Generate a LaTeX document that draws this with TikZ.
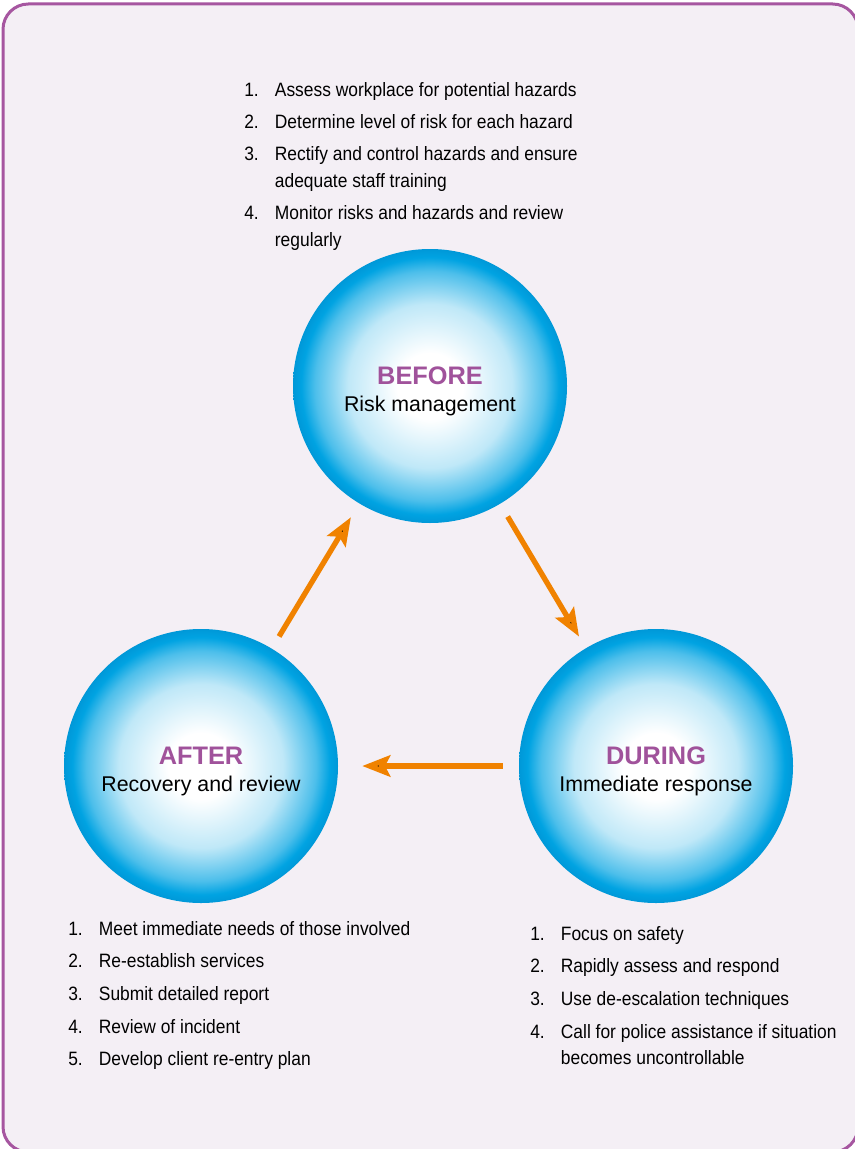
\documentclass[tikz,border=0pt]{standalone}
\usepackage{fontspec}
\setmainfont{Liberation Sans}
\newfontfamily\listfont{Liberation Sans}[FakeStretch=0.9]
\usetikzlibrary{arrows.meta, positioning}

\definecolor{framepurple}{RGB}{166,86,160}
\definecolor{titlepurple}{RGB}{160,82,155}
\definecolor{paneltint}{RGB}{244,239,245}
\definecolor{bubbleblue}{RGB}{0,163,226}
\definecolor{bubbledeep}{RGB}{0,152,216}
\definecolor{arroworange}{RGB}{240,130,0}

% the circle edge falls at 25bp of the shading
\pgfdeclareradialshading{bubble}{\pgfpoint{0bp}{0bp}}{%
  color(0bp)=(white); color(6bp)=(white);
  color(15bp)=(bubbleblue!25); color(21bp)=(bubbleblue!70);
  color(23.5bp)=(bubbleblue); color(25bp)=(bubbledeep); color(50bp)=(bubbledeep)}

\newcommand{\phasetitle}{\color{titlepurple}\fontsize{19}{20.25}\selectfont\bfseries}

\begin{document}
\begin{tikzpicture}[%
    x=0.75pt, y=-0.75pt,
    >={Stealth[length=21pt, width=16pt, inset=4pt]},
    on grid,
    ball/.style={circle, minimum size=205.5pt, inner sep=0pt, shading=bubble},
    phase/.style={align=center, font=\fontsize{16}{20.25}\selectfont, yshift=-4.3pt},
    stepslist/.style={anchor=base west, inner sep=0pt, font=\listfont\fontsize{14.5}{20}\selectfont},
    flow/.style={draw=arroworange, line width=4pt, ->}
  ]

  % panel
  \fill[white] (0,0) rectangle (854,1149);
  \useasboundingbox (0,0) rectangle (854,1149);
  \draw[draw=framepurple, fill=paneltint, line width=2.25pt, rounded corners=19pt]
    (3,4) rectangle (858,1152);

  % the three phases
  \node[ball] (before) at (430,386) {};
  \node[ball, below left=285pt and 171.75pt of before] (after) {};
  \node[ball, right=341.25pt of after] (during) {};

  \node[phase] (beforetext) at (before) {{\phasetitle BEFORE}\\Risk management};
  \node[phase] (aftertext) at (after) {{\phasetitle AFTER}\\Recovery and review};
  \node[phase] (duringtext) at (during) {{\phasetitle DURING}\\Immediate response};

  \path[flow]
            (after) edge [shorten <=10.5pt, shorten >=12pt] (before)
            (before) edge [shorten <=11pt, shorten >=10pt] (during)
            (during) edge [shorten <=12pt, shorten >=18pt] (after);

  % step lists
  \node[stepslist] (beforesteps) at (244,96) {\begin{tabular}[t]{@{}p{23pt}@{}l@{}}
    1. & Assess workplace for potential hazards\\[4.2pt]
    2. & Determine level of risk for each hazard\\[4.2pt]
    3. & Rectify and control hazards and ensure\\
       & adequate staff training\\[4.2pt]
    4. & Monitor risks and hazards and review\\
       & regularly
  \end{tabular}};
  \node[stepslist] (duringsteps) at (530,940) {\begin{tabular}[t]{@{}p{23pt}@{}l@{}}
    1. & Focus on safety\\[4.5pt]
    2. & Rapidly assess and respond\\[4.5pt]
    3. & Use de-escalation techniques\\[4.5pt]
    4. & Call for police assistance if situation\\
       & becomes uncontrollable
  \end{tabular}};
  \node[stepslist] (aftersteps) at (68,935) {\begin{tabular}[t]{@{}p{23pt}@{}l@{}}
    1. & Meet immediate needs of those involved\\[4.5pt]
    2. & Re-establish services\\[4.5pt]
    3. & Submit detailed report\\[4.5pt]
    4. & Review of incident\\[4.5pt]
    5. & Develop client re-entry plan
  \end{tabular}};
\end{tikzpicture}
\end{document}
